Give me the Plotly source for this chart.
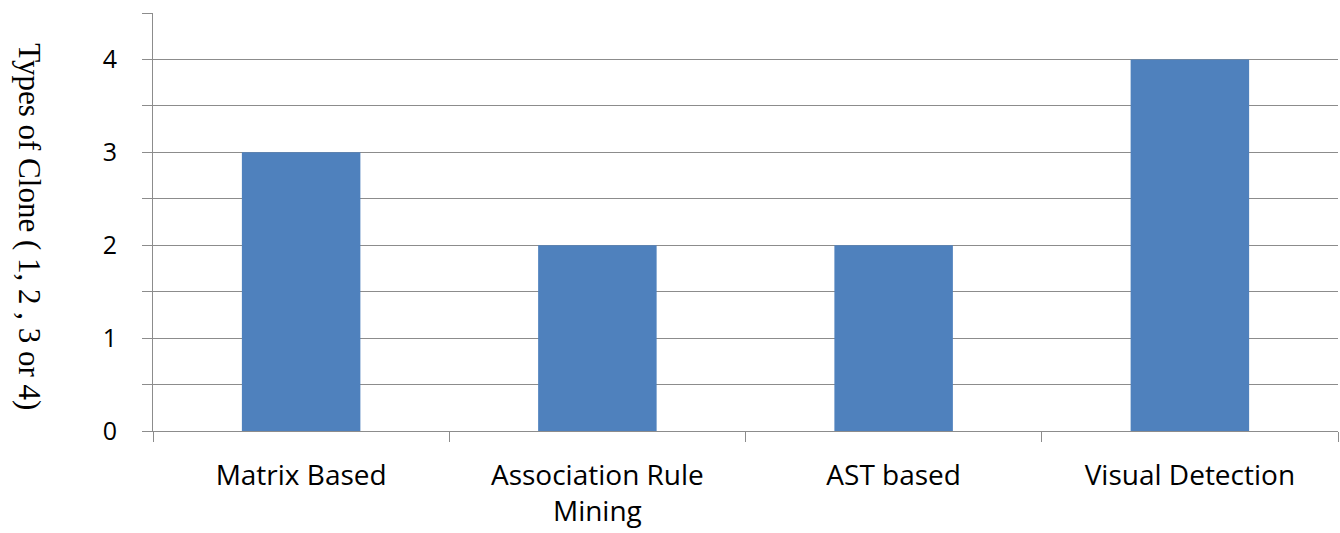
import plotly.graph_objects as go

categories = ["Matrix Based", "Association Rule<br>Mining", "AST based", "Visual Detection"]
values = [3, 2, 2, 4]
y_tickvals = [0, 0.5, 1, 1.5, 2, 2.5, 3, 3.5, 4, 4.5]
y_ticktext = ["0", "", "1", "", "2", "", "3", "", "4", ""]
y_title = "Types of Clone ( 1, 2 , 3 or 4)"

GRID = "#8c8c8c"

fig = go.Figure(
    go.Bar(x=categories, y=values, marker=dict(color="#4f81bd", line=dict(width=0)))
)

fig.update_layout(
    width=1340,
    height=533,
    margin=dict(l=153, r=2, t=13, b=102, autoexpand=False),
    paper_bgcolor="white",
    plot_bgcolor="white",
    bargap=0.6,
    showlegend=False,
    font=dict(family="Open Sans", color="#000000"),
)

fig.update_xaxes(
    type="category",
    automargin=False,
    tickson="boundaries",
    ticks="outside",
    ticklen=10,
    tickcolor=GRID,
    tickwidth=1,
    showline=True,
    linecolor=GRID,
    linewidth=1,
    showgrid=False,
    tickfont=dict(family="Open Sans", size=28, color="#000000"),
    ticklabelstandoff=19,
)

fig.update_yaxes(
    range=[0, 4.5],
    automargin=False,
    tickvals=y_tickvals,
    ticktext=y_ticktext,
    ticks="outside",
    ticklen=10,
    tickcolor=GRID,
    showline=True,
    linecolor=GRID,
    linewidth=1,
    showgrid=True,
    gridcolor=GRID,
    gridwidth=1,
    zeroline=False,
    tickfont=dict(family="Open Sans", size=25, color="#000000"),
    ticklabelstandoff=20,
)

fig.add_annotation(
    text=y_title,
    textangle=90,
    xref="paper",
    yref="paper",
    x=-153 / 1185 + 30 / 1185,
    y=0.49,
    xanchor="center",
    yanchor="middle",
    showarrow=False,
    font=dict(family="Liberation Serif", size=31, color="#000000"),
)

fig.write_html("out.html")
